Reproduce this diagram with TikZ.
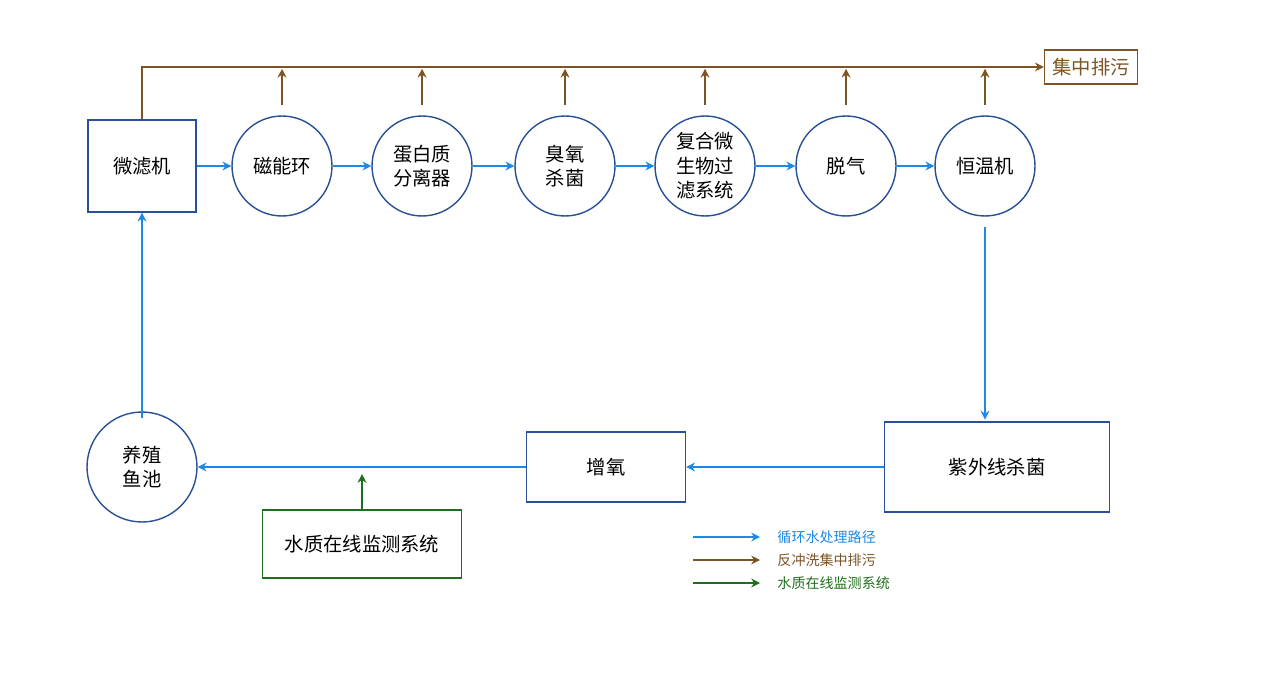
\documentclass[tikz,border=0pt]{standalone}
\usepackage{fontspec}
\setmainfont{Noto Sans CJK SC}
\usetikzlibrary{positioning,arrows.meta}
\definecolor{flowblue}{RGB}{30,136,229}
\definecolor{washbrown}{RGB}{125,84,38}
\definecolor{monigreen}{RGB}{30,110,30}
\definecolor{edgeblue}{RGB}{40,80,150}
\begin{document}
\begin{tikzpicture}[x=0.02cm,y=-0.02cm,
  box/.style={draw=edgeblue,thick,fill=white,align=center,font=\fontsize{11}{14}\selectfont},
  unit/.style={circle,draw=edgeblue,thick,minimum size=2cm,inner sep=0pt,align=center,font=\fontsize{11}{14}\selectfont},
  flow/.style={flowblue,line width=1.2pt,-{Stealth[length=5pt,width=5pt]}},
  wash/.style={washbrown,line width=1.2pt,-{Stealth[length=5pt,width=5pt]}},
  moni/.style={monigreen,line width=1.2pt,-{Stealth[length=5pt,width=5pt]}}]
\useasboundingbox (0,0) rectangle (1273,689);
\tikzstyle{every node}=[font=\fontsize{11}{14}\selectfont]
% upper treatment line
\node[box,minimum width=2.16cm,minimum height=1.84cm] (filter) at (142,166) {微滤机};
\node[unit] (magnet) at (282,166) {磁能环};
\node[unit] (protein) at (422,166) {蛋白质\\分离器};
\node[unit] (ozone) at (565,166) {臭氧\\杀菌};
\node[unit] (bio) at (705,166) {复合微\\生物过\\滤系统};
\node[unit] (degas) at (846,166) {脱气};
\node[unit] (heater) at (985,166) {恒温机};
% lower line
\node[box,minimum width=4.5cm,minimum height=1.8cm] (uv) at (997,467) {紫外线杀菌};
\node[box,minimum width=3.18cm,minimum height=1.4cm] (oxy) at (606,467) {增氧};
\node[unit,minimum size=2.2cm] (pond) at (142,467) {养殖\\鱼池};
\node[box,draw=monigreen,minimum width=3.98cm,minimum height=1.36cm] (monitor) at (362,544) {水质在线监测系统};
\node[draw=washbrown,thick,text=washbrown,minimum width=1.86cm,minimum height=0.68cm,inner sep=1pt] (waste) at (1091,67) {集中排污};
% circulation
\draw[flow] (filter) -- (magnet);
\draw[flow] (magnet) -- (protein);
\draw[flow] (protein) -- (ozone);
\draw[flow] (ozone) -- (bio);
\draw[flow] (bio) -- (degas);
\draw[flow] (degas) -- (heater);
\draw[flow] ([yshift=-6]heater.south) -- ([yshift=1]uv.north -| heater);
\draw[flow] (uv) -- (oxy);
\draw[flow] (oxy) -- (pond);
\draw[flow] ([yshift=-4]pond.north) -- (filter.south);
\coordinate (tap) at (362,467);
\draw[moni] (monitor.north) -- ([yshift=-4]tap);
% backwash
\draw[wash] (filter.north) |- (waste.west);
\foreach \n in {magnet,protein,ozone,bio,degas,heater}
  \draw[wash] ([yshift=6]\n.north) -- ++(0,-36);
% legend
\foreach \y/\c/\t in {537/flowblue/循环水处理路径,560/washbrown/反冲洗集中排污,583/monigreen/水质在线监测系统}{
  \coordinate (l\y) at (693,\y);
  \draw[\c,line width=1.2pt,-{Stealth[length=5pt,width=5pt]}] (l\y) -- ++(67,0) node[right=6pt,text=\c,font=\fontsize{8}{10}\selectfont]{\t};
}
\end{tikzpicture}
\end{document}
